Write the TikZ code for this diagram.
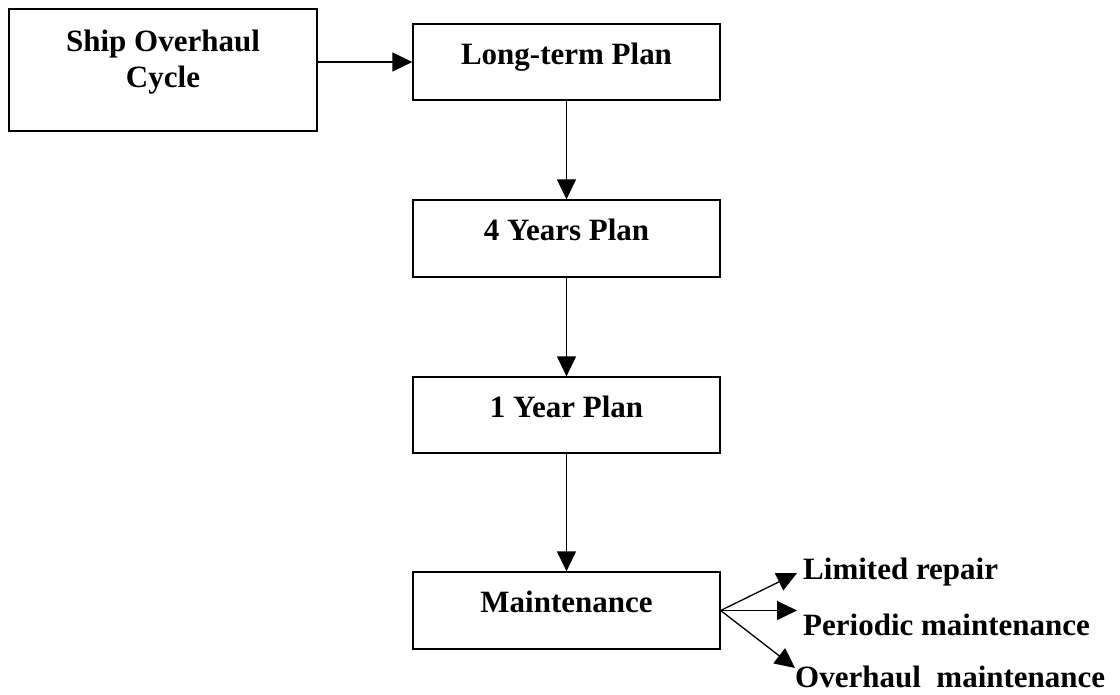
\documentclass[tikz,border=0pt]{standalone}
\usepackage{fontspec}
\setmainfont{Liberation Serif}
\usetikzlibrary{arrows.meta}
\begin{document}
\begin{tikzpicture}[x=1pt,y=-1pt,
  lbl/.style={font=\bfseries\fontsize{31}{36}\selectfont},
  planbox/.style={draw, line width=1.3pt, lbl, minimum width=307pt,
    minimum height=76pt, inner sep=0pt, text height=22pt, text depth=18pt},
  arr/.style={line width=1.3pt, -{Triangle[length=20pt,width=19pt]}},
  outtext/.style={lbl, anchor=base west, inner sep=0pt}]
\useasboundingbox (0,0) rectangle (1120,694);

% starting box
\node (soc) [draw, line width=1.3pt, minimum width=308pt, minimum height=122pt,
  inner sep=0pt] at (163,70) {};
\node (soctext) [lbl, align=center, anchor=north, inner sep=0pt] at (163,29.5)
  {Ship Overhaul\\Cycle};

% planning chain
\node (ltp) [planbox] at (566.5,62) {Long-term Plan};
\node (fyp) [planbox, minimum height=77pt] at (566.5,238.5) {4 Years Plan};
\node (oyp) [planbox] at (566.5,415) {1 Year Plan};
\node (mnt) [planbox, minimum height=77pt] at (566.5,610.5) {Maintenance};

% kinds of maintenance
\node (lr) [outtext] at (803,579) {Limited repair};
\node (pm) [outtext] at (803,635) {Periodic maintenance};
\node (om) [outtext] at (795,687.5) {Overhaul\ \ maintenance};
\coordinate (lrtip) at (797,573);
\coordinate (pmtip) at (797,610.5);
\coordinate (omtip) at (795,668);

% connectors
\draw[arr] (ltp.west -| soc.east) -- (ltp.west);
\draw[arr] (ltp.south) -- (fyp.north);
\draw[arr] (fyp.south) -- (oyp.north);
\draw[arr] (oyp.south) -- (mnt.north);
\draw[arr] (mnt.east) -- (lrtip);
\draw[arr] (mnt.east) -- (pmtip);
\draw[arr] (mnt.east) -- (omtip);
\end{tikzpicture}
\end{document}
